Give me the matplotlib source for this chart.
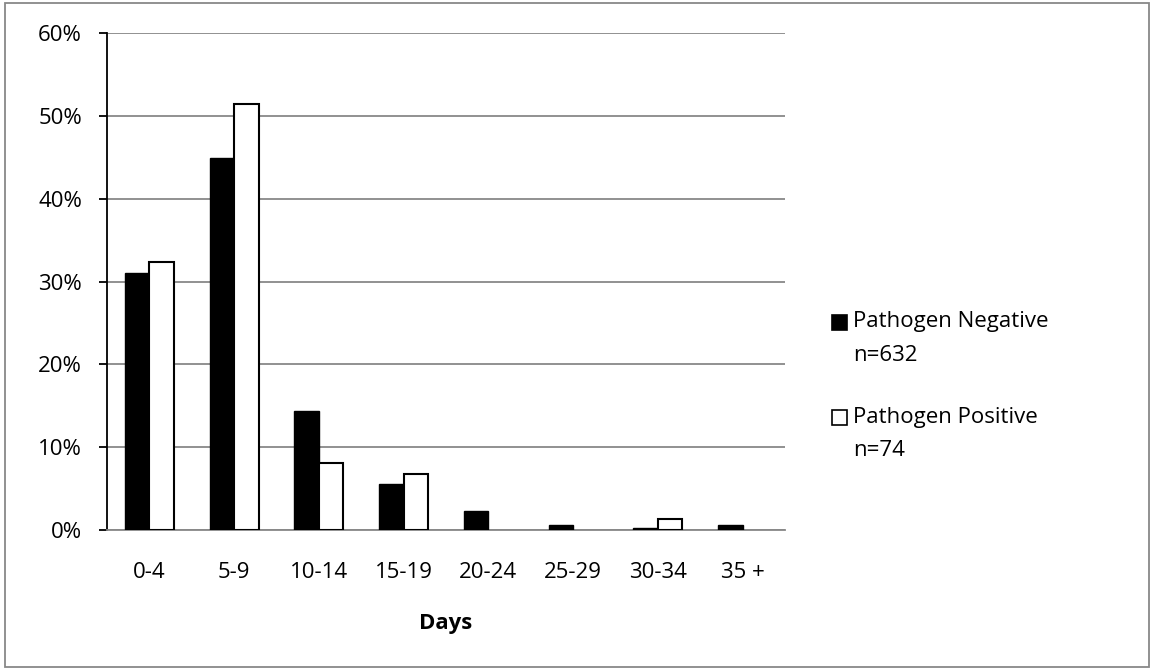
import numpy as np
import matplotlib.pyplot as plt
from matplotlib.patches import Rectangle
from matplotlib.ticker import PercentFormatter

plt.rcParams['font.family'] = ['Open Sans', 'DejaVu Sans']

# data (percent of patients)
categories = ['0-4', '5-9', '10-14', '15-19', '20-24', '25-29', '30-34', '35 +']
negative = [31.0, 44.9, 14.4, 5.5, 2.3, 0.6, 0.3, 0.6]
positive = [32.4, 51.4, 8.1, 6.8, 0.0, 0.0, 1.35, 0.0]
names = ['Pathogen Negative', 'Pathogen Positive']
counts = ['n=632', 'n=74']

W, H = 1151, 669
FS = 16
fig = plt.figure(figsize=(W / 100, H / 100), dpi=100)
ax = fig.add_axes([107 / W, 1 - 530 / H, 678 / W, 497 / H])

x = np.arange(len(categories))
w = 0.29
ax.bar(x - w / 2, negative, w, color='black', edgecolor='black', linewidth=1, zorder=3)
# empty categories get no outline
lw_pos = [1.5 if v > 0 else 0 for v in positive]
ax.bar(x + w / 2, positive, w, color='white', edgecolor='black', linewidth=lw_pos, zorder=3)

ax.set_xlim(-0.5, len(categories) - 0.5)
ax.set_ylim(0, 60)
ax.set_yticks(np.arange(0, 61, 10))
ax.yaxis.set_major_formatter(PercentFormatter(decimals=0))
ax.set_xticks(x)
ax.set_xticklabels(categories)
ax.grid(axis='y', color='#888888', linewidth=1.3, zorder=0)

for s in ['top', 'right']:
    ax.spines[s].set_visible(False)
ax.spines['left'].set_color('black')
ax.spines['left'].set_linewidth(1.3)
ax.spines['bottom'].set_color('#888888')
ax.spines['bottom'].set_linewidth(1.3)
ax.tick_params(axis='x', length=0, pad=23, labelsize=FS)
ax.tick_params(axis='y', length=6, width=1.3, direction='out', pad=12, labelsize=FS)
ax.set_xlabel('Days', fontweight='bold', fontsize=FS, labelpad=22)

# legend drawn by hand: square next to first line, count on a second line
for i, (name, cnt) in enumerate(zip(names, counts)):
    yc = 322 + i * 95
    face = 'black' if i == 0 else 'white'
    fig.patches.append(Rectangle((832 / W, 1 - (yc + 7.5) / H), 15 / W, 15 / H,
                                 transform=fig.transFigure, facecolor=face,
                                 edgecolor='black', linewidth=1.2))
    fig.text(853 / W, 1 - yc / H, name, fontsize=FS, va='center', ha='left')
    fig.text(853 / W, 1 - (yc + 33) / H, cnt, fontsize=FS, va='center', ha='left')

fig.patches.append(Rectangle((5 / W, 2 / H), 1144 / W, 664 / H, transform=fig.transFigure,
                             fill=False, edgecolor='#888888', linewidth=1.3))

fig.savefig('out.png', dpi=100)
